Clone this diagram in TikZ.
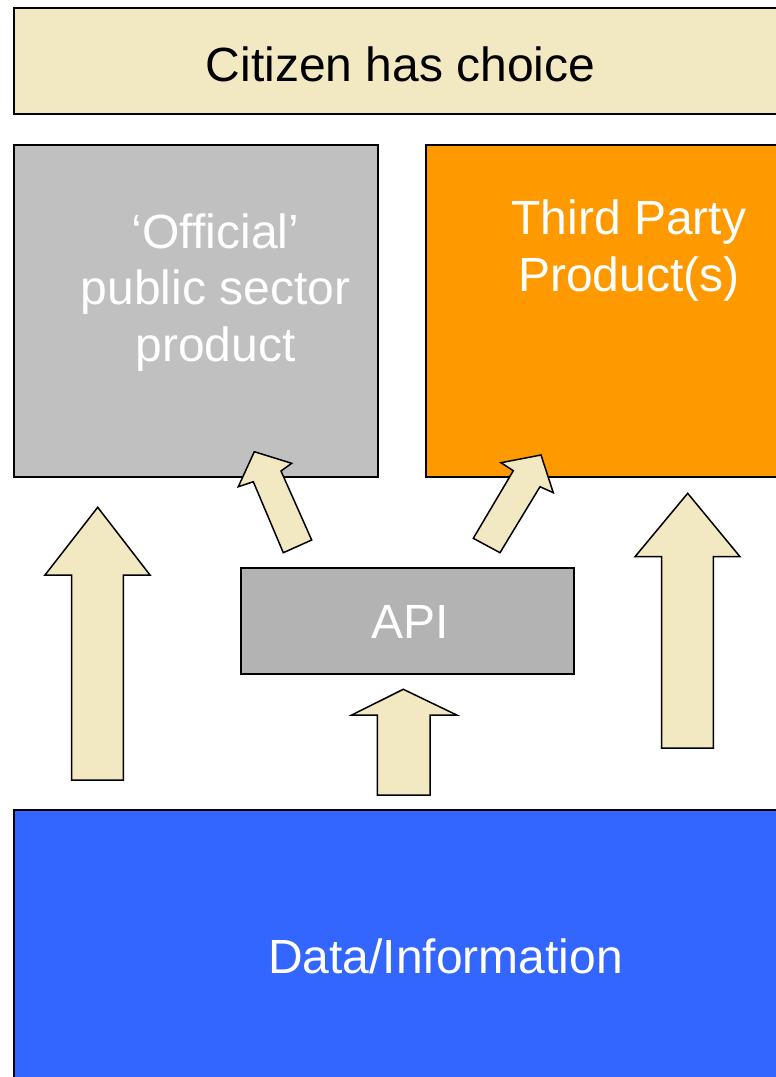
\documentclass[tikz,border=0pt]{standalone}
\usepackage{fontspec}
\setmainfont{Liberation Sans}
\definecolor{beige}{HTML}{F2E9C2}
\definecolor{greybox}{HTML}{C0C0C0}
\definecolor{apigrey}{HTML}{B3B3B3}
\definecolor{orangebox}{HTML}{FF9900}
\definecolor{bluebox}{HTML}{3366FF}
\tikzset{
  box/.style={draw=black, line width=1.5pt, rectangle, inner sep=0pt},
  bigtext/.style={font=\fontsize{48}{56.5}\selectfont, inner sep=0pt, align=center, anchor=base},
  blockarrow/.style={draw=black, fill=beige, line width=1.5pt, line join=miter}
}
\begin{document}
\begin{tikzpicture}[x=1pt,y=-1pt]
\useasboundingbox (0,0) rectangle (776,1077);
\clip (0,0) rectangle (776,1077);
\fill[white] (0,0) rectangle (776,1077);
% boxes
\node[box, fill=beige, minimum width=776pt, minimum height=106pt] (citizen) at (402,61) {};
\node[box, fill=greybox, minimum width=364pt, minimum height=332pt] (official) at (196,311) {};
\node[box, fill=orangebox, minimum width=364pt, minimum height=332pt] (third) at (608,311) {};
\node[box, fill=apigrey, minimum width=333pt, minimum height=106pt] (api) at (407.5,621) {};
\node[box, fill=bluebox, minimum width=776pt, minimum height=280pt] (data) at (402,950) {};
% texts
\node[bigtext, text=black] (citizentext) at (400.5,81) {Citizen has choice};
\node[bigtext, text=white] (officialtext) at (215.5,361) {‘Official’\\public sector\\product};
\node[bigtext, text=white] (thirdtext) at (629,291) {Third Party\\Product(s)};
\node[bigtext, text=white] (apitext) at (410,638) {API};
\node[bigtext, text=white] (datatext) at (445.5,973) {Data/Information};
% block arrows
\draw[blockarrow] (71.7,780) -- (71.7,575) -- (45,575) -- (97.7,507.3) -- (150,575) -- (123.3,575) -- (123.3,780) -- cycle;
\draw[blockarrow] (661.7,748) -- (661.7,556.7) -- (635,556.7) -- (687.7,493.3) -- (740,556.7) -- (713.3,556.7) -- (713.3,748) -- cycle;
\draw[blockarrow] (377.3,795) -- (377.3,715) -- (351.7,715) -- (403.3,689.3) -- (456.7,715) -- (430,715) -- (430,795) -- cycle;
\draw[blockarrow] (283.3,552.7) -- (253.3,481.7) -- (238.3,486.7) -- (254.3,451.7) -- (291.7,463.3) -- (281,471) -- (311.7,540) -- cycle;
\draw[blockarrow] (500,552.7) -- (540,486.7) -- (553.3,492.7) -- (541,455) -- (501,462.7) -- (513.3,470.7) -- (473.3,538.3) -- cycle;
\end{tikzpicture}
\end{document}
